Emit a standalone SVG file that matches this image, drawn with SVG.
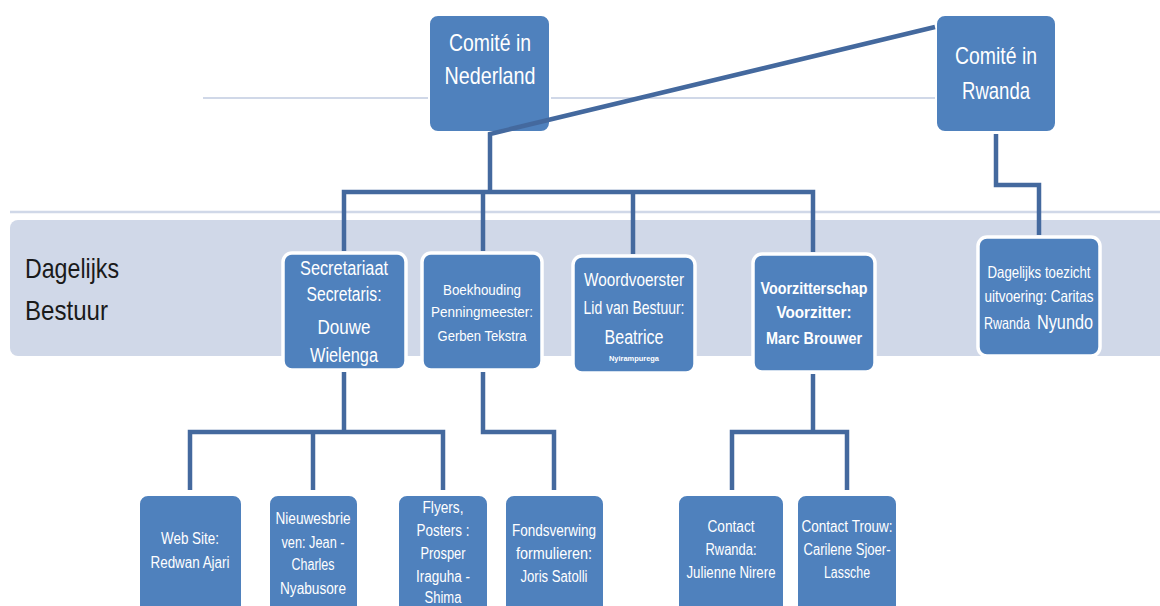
<svg xmlns="http://www.w3.org/2000/svg" width="1160" height="606" viewBox="0 0 1160 606">
<style>
.box{fill:#4F81BD;stroke:#FFFFFF;stroke-width:2}
.box2{fill:#4F81BD;stroke:#FFFFFF;stroke-width:3.5}
.t{font-family:"Liberation Sans",Arial,sans-serif;fill:#FFFFFF;text-anchor:middle}
.ts{font-family:"Liberation Sans",Arial,sans-serif;fill:#FFFFFF;text-anchor:start}
.conn{fill:none;stroke:#44699E;stroke-width:4.5;stroke-linejoin:miter;stroke-linecap:butt}
.lbl{font-family:"Liberation Sans",Arial,sans-serif;fill:#1A1A1A;font-size:28px}
</style>
<rect x="0" y="0" width="1160" height="606" fill="#FFFFFF"/>
<g id="background">
<line x1="203" y1="98" x2="936" y2="98" stroke="#D0D8E8" stroke-width="2"/>
<line x1="10" y1="212" x2="1160" y2="212" stroke="#D0D8E8" stroke-width="2.5"/>
<path d="M18,220 H1160 V356 H18 A8,8 0 0 1 10,348 V228 A8,8 0 0 1 18,220 Z" fill="#D0D8E8"/>
<text class="lbl" x="25" y="278" textLength="94" lengthAdjust="spacingAndGlyphs">Dagelijks</text>
<text class="lbl" x="25" y="320" textLength="83" lengthAdjust="spacingAndGlyphs">Bestuur</text>
</g>
<g id="comite-nl">
<rect class="box" x="429" y="15" width="121" height="117" rx="9"/>
<text class="t" x="490" y="51" font-size="24" textLength="82" lengthAdjust="spacingAndGlyphs">Comité in</text>
<text class="t" x="490" y="84" font-size="24" textLength="91" lengthAdjust="spacingAndGlyphs">Nederland</text>
</g>
<g id="comite-rw">
<rect class="box" x="936" y="15" width="120" height="117" rx="9"/>
<text class="t" x="996" y="64" font-size="24" textLength="82" lengthAdjust="spacingAndGlyphs">Comité in</text>
<text class="t" x="996" y="99" font-size="24" textLength="68" lengthAdjust="spacingAndGlyphs">Rwanda</text>
</g>
<g id="secretariaat">
<rect class="box2" x="283" y="253" width="123" height="117" rx="9"/>
<text class="t" x="344" y="275" font-size="20" textLength="88" lengthAdjust="spacingAndGlyphs">Secretariaat</text>
<text class="t" x="344" y="301" font-size="20" textLength="75" lengthAdjust="spacingAndGlyphs">Secretaris:</text>
<text class="t" x="344" y="334" font-size="20" textLength="53" lengthAdjust="spacingAndGlyphs">Douwe</text>
<text class="t" x="344" y="362" font-size="20" textLength="68" lengthAdjust="spacingAndGlyphs">Wielenga</text>
</g>
<g id="boekhouding">
<rect class="box2" x="422" y="253" width="120" height="117" rx="9"/>
<text class="t" x="482" y="295" font-size="15.5" textLength="78" lengthAdjust="spacingAndGlyphs">Boekhouding</text>
<text class="t" x="482" y="317" font-size="15.5" textLength="102" lengthAdjust="spacingAndGlyphs">Penningmeester:</text>
<text class="t" x="482" y="341" font-size="15.5" textLength="89" lengthAdjust="spacingAndGlyphs">Gerben Tekstra</text>
</g>
<g id="woordvoerster">
<rect class="box2" x="573" y="256" width="122" height="117" rx="9"/>
<text class="t" x="634" y="286" font-size="18.5" textLength="100" lengthAdjust="spacingAndGlyphs">Woordvoerster</text>
<text class="t" x="634" y="314" font-size="18.5" textLength="101" lengthAdjust="spacingAndGlyphs">Lid van Bestuur:</text>
<text class="t" x="634" y="344" font-size="20" textLength="59" lengthAdjust="spacingAndGlyphs">Beatrice</text>
<text class="t" x="634" y="361" font-size="8" font-weight="bold" textLength="50" lengthAdjust="spacingAndGlyphs">Nyirampurega</text>
</g>
<g id="voorzitterschap">
<rect class="box2" x="753" y="254" width="122" height="118" rx="9"/>
<text class="t" x="814" y="294" font-size="17" font-weight="bold" textLength="107" lengthAdjust="spacingAndGlyphs">Voorzitterschap</text>
<text class="t" x="814" y="318" font-size="17" font-weight="bold" textLength="75" lengthAdjust="spacingAndGlyphs">Voorzitter:</text>
<text class="t" x="814" y="344" font-size="17" font-weight="bold" textLength="96" lengthAdjust="spacingAndGlyphs">Marc Brouwer</text>
</g>
<g id="dagelijks-toezicht">
<rect class="box2" x="978" y="237" width="122" height="119" rx="9"/>
<text class="t" x="1039" y="278" font-size="16.5" textLength="103" lengthAdjust="spacingAndGlyphs">Dagelijks toezicht</text>
<text class="t" x="1039" y="302" font-size="16.5" textLength="109" lengthAdjust="spacingAndGlyphs">uitvoering: Caritas</text>
<text class="ts" x="984" y="329" font-size="16.5" textLength="46" lengthAdjust="spacingAndGlyphs">Rwanda</text>
<text class="ts" x="1037" y="329" font-size="20" textLength="56" lengthAdjust="spacingAndGlyphs">Nyundo</text>
</g>
<g id="web-site">
<rect class="box" x="139" y="495" width="103" height="120" rx="9"/>
<text class="t" x="190" y="544" font-size="16" textLength="58" lengthAdjust="spacingAndGlyphs">Web Site:</text>
<text class="t" x="190" y="568" font-size="16" textLength="79" lengthAdjust="spacingAndGlyphs">Redwan Ajari</text>
</g>
<g id="nieuwsbrieven">
<rect class="box" x="269" y="495" width="89" height="120" rx="9"/>
<text class="t" x="313" y="524" font-size="16" textLength="75" lengthAdjust="spacingAndGlyphs">Nieuwesbrie</text>
<text class="t" x="313" y="548" font-size="16" textLength="63" lengthAdjust="spacingAndGlyphs">ven: Jean -</text>
<text class="t" x="313" y="570" font-size="16" textLength="43" lengthAdjust="spacingAndGlyphs">Charles</text>
<text class="t" x="313" y="594" font-size="16" textLength="66" lengthAdjust="spacingAndGlyphs">Nyabusore</text>
</g>
<g id="flyers">
<rect class="box" x="398" y="495" width="90" height="120" rx="9"/>
<text class="t" x="443" y="513" font-size="16" textLength="41" lengthAdjust="spacingAndGlyphs">Flyers,</text>
<text class="t" x="443" y="536" font-size="16" textLength="53" lengthAdjust="spacingAndGlyphs">Posters :</text>
<text class="t" x="443" y="559" font-size="16" textLength="45" lengthAdjust="spacingAndGlyphs">Prosper</text>
<text class="t" x="443" y="582" font-size="16" textLength="54" lengthAdjust="spacingAndGlyphs">Iraguha -</text>
<text class="t" x="443" y="603" font-size="16" textLength="37" lengthAdjust="spacingAndGlyphs">Shima</text>
</g>
<g id="fondsverwing">
<rect class="box" x="505" y="495" width="99" height="120" rx="9"/>
<text class="t" x="554" y="536" font-size="16" textLength="84" lengthAdjust="spacingAndGlyphs">Fondsverwing</text>
<text class="t" x="554" y="559" font-size="16" textLength="76" lengthAdjust="spacingAndGlyphs">formulieren:</text>
<text class="t" x="554" y="582" font-size="16" textLength="67" lengthAdjust="spacingAndGlyphs">Joris Satolli</text>
</g>
<g id="contact-rwanda">
<rect class="box" x="678" y="495" width="106" height="120" rx="9"/>
<text class="t" x="731" y="532" font-size="16" textLength="47" lengthAdjust="spacingAndGlyphs">Contact</text>
<text class="t" x="731" y="555" font-size="16" textLength="51" lengthAdjust="spacingAndGlyphs">Rwanda:</text>
<text class="t" x="731" y="578" font-size="16" textLength="89" lengthAdjust="spacingAndGlyphs">Julienne Nirere</text>
</g>
<g id="contact-trouw">
<rect class="box" x="797" y="495" width="100" height="120" rx="9"/>
<text class="t" x="847" y="532" font-size="16" textLength="91" lengthAdjust="spacingAndGlyphs">Contact Trouw:</text>
<text class="t" x="847" y="555" font-size="16" textLength="87" lengthAdjust="spacingAndGlyphs">Carilene Sjoer-</text>
<text class="t" x="847" y="578" font-size="16" textLength="46" lengthAdjust="spacingAndGlyphs">Lassche</text>
</g>
<g id="connectors">
<polyline class="conn" points="935,27 490,134 490,192"/>
<polyline class="conn" points="344,251 344,192 813,192 813,252"/>
<line class="conn" x1="483" y1="192" x2="483" y2="251"/>
<line class="conn" x1="633" y1="192" x2="633" y2="254"/>
<polyline class="conn" points="996,134 996,185 1039,185 1039,235"/>
<line class="conn" x1="344" y1="372" x2="344" y2="432"/>
<polyline class="conn" points="190,490 190,432 443,432 443,490"/>
<line class="conn" x1="313" y1="432" x2="313" y2="490"/>
<polyline class="conn" points="483,372 483,432 554,432 554,490"/>
<line class="conn" x1="813" y1="374" x2="813" y2="432"/>
<polyline class="conn" points="732,490 732,432 847,432 847,490"/>
</g>
</svg>
